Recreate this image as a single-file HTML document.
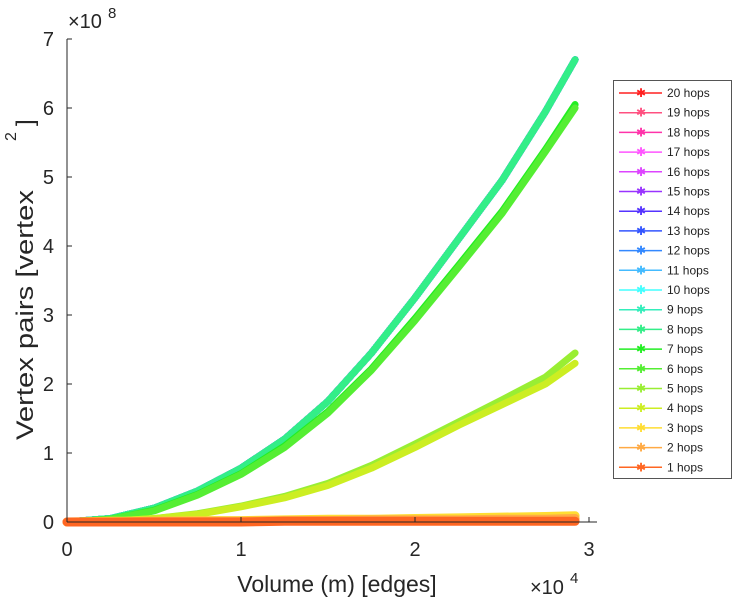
<!DOCTYPE html>
<html><head><meta charset="utf-8"><style>
body{margin:0;background:#fff;}
svg{display:block;font-family:"Liberation Sans",sans-serif;}
</style></head><body>
<svg id="chart" width="733" height="600">
<g id="marks"></g>
<g id="axes"></g>
<g id="legend"></g>
</svg>
<script>
const xs = [0,0.25,0.5,0.75,1,1.25,1.5,1.75,2,2.25,2.5,2.75,2.92];
const sTop = [0,0.05,0.2,0.45,0.78,1.2,1.75,2.45,3.25,4.1,4.95,5.95,6.7];
const s7 = [0,0.04,0.17,0.4,0.7,1.1,1.6,2.22,2.95,3.72,4.5,5.4,6.05];
const s6 = [0,0.04,0.16,0.39,0.69,1.08,1.58,2.2,2.92,3.69,4.47,5.37,6.0];
const s5 = [0,0.01,0.05,0.12,0.23,0.37,0.56,0.82,1.13,1.45,1.77,2.1,2.45];
const s4 = [0,0.01,0.05,0.11,0.22,0.35,0.53,0.78,1.08,1.4,1.7,2.0,2.3];
const s3 = [0,0.01,0.01,0.02,0.02,0.03,0.04,0.04,0.05,0.06,0.07,0.08,0.09];
const s2 = [0,0.0,0.01,0.01,0.01,0.02,0.02,0.03,0.03,0.03,0.04,0.04,0.05];
const s1 = [0,0,0,0,0,0.01,0.01,0.01,0.01,0.01,0.01,0.01,0.01];
const hops = [20,19,18,17,16,15,14,13,12,11,10,9,8,7,6,5,4,3,2,1];
const colors = ["#ff2020","#ff5080","#ff33aa","#ff55ff","#dd44ff","#9933ff","#5533ff","#3355ff","#3388ff","#44bbff","#44ffff","#33eebb","#33ee88","#22ee22","#55ee33","#99ee33","#ccee22","#ffdd33","#ffaa44","#ff6622"];
const seriesData = [sTop,sTop,sTop,sTop,sTop,sTop,sTop,sTop,sTop,sTop,sTop,sTop,sTop,s7,s6,s5,s4,s3,s2,s1];
const xTicks = [0,1,2,3];
const yTicks = [0,1,2,3,4,5,6,7];

const NS="http://www.w3.org/2000/svg";
const X0=67,XU=174,Y0=522,YU=69;
const sx=v=>X0+v*XU, sy=v=>Y0-v*YU;
function mk(tag,attrs,parent,text){const e=document.createElementNS(NS,tag);for(const k in attrs)e.setAttribute(k,attrs[k]);if(text!==undefined)e.textContent=text;parent.appendChild(e);return e;}
const marks=document.getElementById('marks'),axes=document.getElementById('axes'),legend=document.getElementById('legend');
seriesData.forEach((d,i)=>{
  const w = i>=17 ? 9 : 7;
  const p=mk('polyline',{points:d.map((v,j)=>sx(xs[j])+','+sy(v)).join(' '),fill:'none',stroke:colors[i],'stroke-width':w,'stroke-linejoin':'round','stroke-linecap':'round'},marks);
  
  
});
const c='#262626';
let a=mk('line',{x1:X0,y1:39,x2:X0,y2:Y0,stroke:c,'stroke-width':1},axes);

a=mk('line',{x1:X0,y1:Y0,x2:597,y2:Y0,stroke:c,'stroke-width':1},axes);

yTicks.forEach(t=>{mk('line',{x1:X0,y1:sy(t),x2:X0+5,y2:sy(t),stroke:c},axes);
  const tx=mk('text',{x:54,y:sy(t)+7,'text-anchor':'end','font-size':20,fill:c},axes,String(t));
  });
xTicks.forEach(t=>{mk('line',{x1:sx(t),y1:Y0,x2:sx(t),y2:Y0-5,stroke:c},axes);
  const tx=mk('text',{x:sx(t),y:556,'text-anchor':'middle','font-size':20,fill:c},axes,String(t));
  });
let t=mk('text',{x:68,y:28,'font-size':20,fill:c},axes,'×10');
mk('text',{x:108,y:18,'font-size':15,fill:c},axes,'8');
t=mk('text',{x:530,y:594,'font-size':20,fill:c},axes,'×10');
mk('text',{x:570,y:583,'font-size':15,fill:c},axes,'4');
t=mk('text',{x:337,y:592,'text-anchor':'middle','font-size':23,fill:c},axes,'Volume (m) [edges]');

t=mk('text',{x:0,y:0,'font-size':24,fill:c,textLength:250,lengthAdjust:'spacingAndGlyphs',transform:'translate(33,440) rotate(-90)'},axes,'Vertex pairs [vertex');

mk('text',{x:0,y:0,'font-size':24,fill:c,transform:'translate(33,126) rotate(-90)'},axes,']');
mk('text',{x:0,y:0,'font-size':16,fill:c,transform:'translate(16,141) rotate(-90)'},axes,'2');
const lb=mk('rect',{x:613.5,y:80.5,width:118,height:398,fill:'#fff',stroke:'#555'},legend);

hops.forEach((h,i)=>{const y=93+i*19.7;
  const g=mk('g',{},legend);
  
  
  mk('line',{x1:619,y1:y,x2:662,y2:y,stroke:colors[i],'stroke-width':1.5},g);
  mk('text',{x:641,y:y+4,'text-anchor':'middle','font-size':12,fill:colors[i]},g,'✱');
  mk('text',{x:667,y:y+4,'font-size':12,fill:'#222'},g,h+' hops');
});
</script>
</body></html>
